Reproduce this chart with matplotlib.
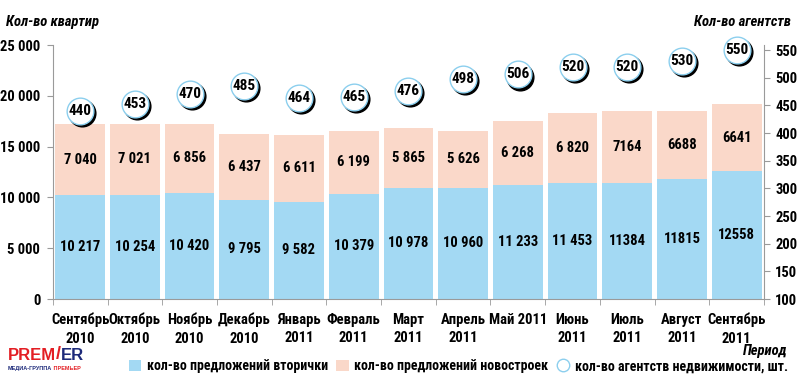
import matplotlib.pyplot as plt
import matplotlib.transforms as mtransforms
from matplotlib.lines import Line2D
from matplotlib.patches import Patch
from matplotlib.ticker import FuncFormatter

plt.rcParams['font.family'] = ['Roboto Condensed', 'PT Sans Narrow', 'Fira Sans Condensed',
                               'Liberation Sans', 'DejaVu Sans']
plt.rcParams['font.weight'] = 'bold'

# данные
months = ["Сентябрь\n2010", "Октябрь\n2010", "Ноябрь\n2010", "Декабрь\n2010",
          "Январь\n2011", "Февраль\n2011", "Март\n2011", "Апрель\n2011", "Май 2011",
          "Июнь\n2011", "Июль\n2011", "Август\n2011", "Сентябрь\n2011"]
secondary = [10217, 10254, 10420, 9795, 9582, 10379, 10978, 10960, 11233, 11453, 11384, 11815, 12558]
new_build = [7040, 7021, 6856, 6437, 6611, 6199, 5865, 5626, 6268, 6820, 7164, 6688, 6641]
agencies = [440, 453, 470, 485, 464, 465, 476, 498, 506, 520, 520, 530, 550]
spaced = 10  # первые 10 подписей с пробелом-разделителем

blue = "#a3d9f3"
pink = "#fad8c9"
gray = "#9a9a9a"
fs = 10.5


def fmt(v, i):
    return f"{v:,}".replace(",", " ") if i < spaced else str(v)


fig = plt.figure(figsize=(8, 3.79), dpi=100)
ax = fig.add_axes([0.066, 0.211, 0.889, 0.670])
x = list(range(len(months)))

ax.bar(x, secondary, width=0.91, color=blue, zorder=2)
ax.bar(x, new_build, width=0.91, bottom=secondary, color=pink, zorder=2)
for i in x:
    ax.text(i, secondary[i] / 2, fmt(secondary[i], i), ha="center", va="center",
            fontsize=fs, fontweight="bold", zorder=3)
    ax.text(i, secondary[i] + new_build[i] / 2, fmt(new_build[i], i), ha="center",
            va="center", fontsize=fs, fontweight="bold", zorder=3)

ax.set_xlim(-0.5, len(months) - 0.5)
ax.set_ylim(0, 25000)
ax.set_yticks(range(0, 25001, 5000))
ax.yaxis.set_major_formatter(FuncFormatter(lambda v, p: f"{int(v):,}".replace(",", " ")))
ax.set_xticks(x)
ax.set_xticklabels(months, fontsize=fs, fontweight="bold", linespacing=1.4)
ax.set_xticks([i + 0.5 for i in range(-1, len(months))], minor=True)
ax.tick_params(axis="x", which="major", length=0, pad=10)
ax.tick_params(axis="x", which="minor", length=4, color=gray, direction="out")
ax.tick_params(axis="y", length=4, color=gray, labelsize=fs, pad=5)
for s in ["top", "right"]:
    ax.spines[s].set_visible(False)
ax.spines["left"].set_color(gray)
ax.spines["bottom"].set_color(gray)

ax2 = ax.twinx()
ax2.set_ylim(100, 559)
ax2.set_yticks(range(100, 551, 50))
ax2.tick_params(axis="y", length=4, color=gray, labelsize=fs, pad=4)
for s in ["top", "left", "bottom"]:
    ax2.spines[s].set_visible(False)
ax2.spines["right"].set_color(gray)

# кружки агентств с тенью
shadow = mtransforms.offset_copy(ax2.transData, fig=fig, x=1.5, y=-1.5, units="points")
ax2.scatter(x, agencies, s=370, color="black", transform=shadow, zorder=4, clip_on=False)
ax2.scatter(x, agencies, s=370, facecolor="white", edgecolor="#8ccfee", linewidth=1.0,
            zorder=5, clip_on=False)
for i in x:
    ax2.text(i, agencies[i], str(agencies[i]), ha="center", va="center",
             fontsize=11, fontweight="bold", zorder=6)

fig.text(0.008, 0.932, "Кол-во квартир", fontsize=fs, fontweight="bold", style="italic")
fig.text(0.988, 0.932, "Кол-во агентств", fontsize=fs, fontweight="bold", style="italic", ha="right")
fig.text(0.985, 0.055, "Период", fontsize=fs, fontweight="bold", style="italic", ha="right", va="bottom")

handles = [Patch(facecolor=blue, edgecolor="none"),
           Patch(facecolor=pink, edgecolor="none"),
           Line2D([], [], marker="o", linestyle="none", markersize=9,
                  markerfacecolor="white", markeredgecolor="#8ccfee")]
labels = ["кол-во предложений вторички", "кол-во предложений новостроек",
          "кол-во агентств недвижимости, шт."]
fig.legend(handles, labels, loc="center left", bbox_to_anchor=(0.152, 0.034), ncol=3,
           frameon=False, fontsize=10, handlelength=0.9, handleheight=0.9,
           handletextpad=0.4, columnspacing=0.6, borderpad=0)

# логотип
logo_font = ["Liberation Sans", "DejaVu Sans"]
t1 = fig.text(0.010, 0.05, "PREM", color="#e31e24", fontsize=12, fontweight="bold", family=logo_font)
t2 = ax.annotate("/", xy=(1, 0), xycoords=t1, va="bottom", color="#e31e24", fontsize=13,
                 fontweight="bold", family=logo_font, annotation_clip=False)
ax.annotate("ER", xy=(1, 0), xycoords=t2, va="bottom", color="#1d2a7a", fontsize=12,
            fontweight="bold", family=logo_font, annotation_clip=False)
t4 = fig.text(0.010, 0.024, "МЕДИА-ГРУППА", color="#1d2a7a", fontsize=4.0, fontweight="bold",
              family=logo_font)
ax.annotate(" ПРЕМЬЕР", xy=(1, 0), xycoords=t4, va="bottom", color="#e31e24", fontsize=4.0,
            fontweight="bold", family=logo_font, annotation_clip=False)

fig.savefig("out.png", dpi=100)
